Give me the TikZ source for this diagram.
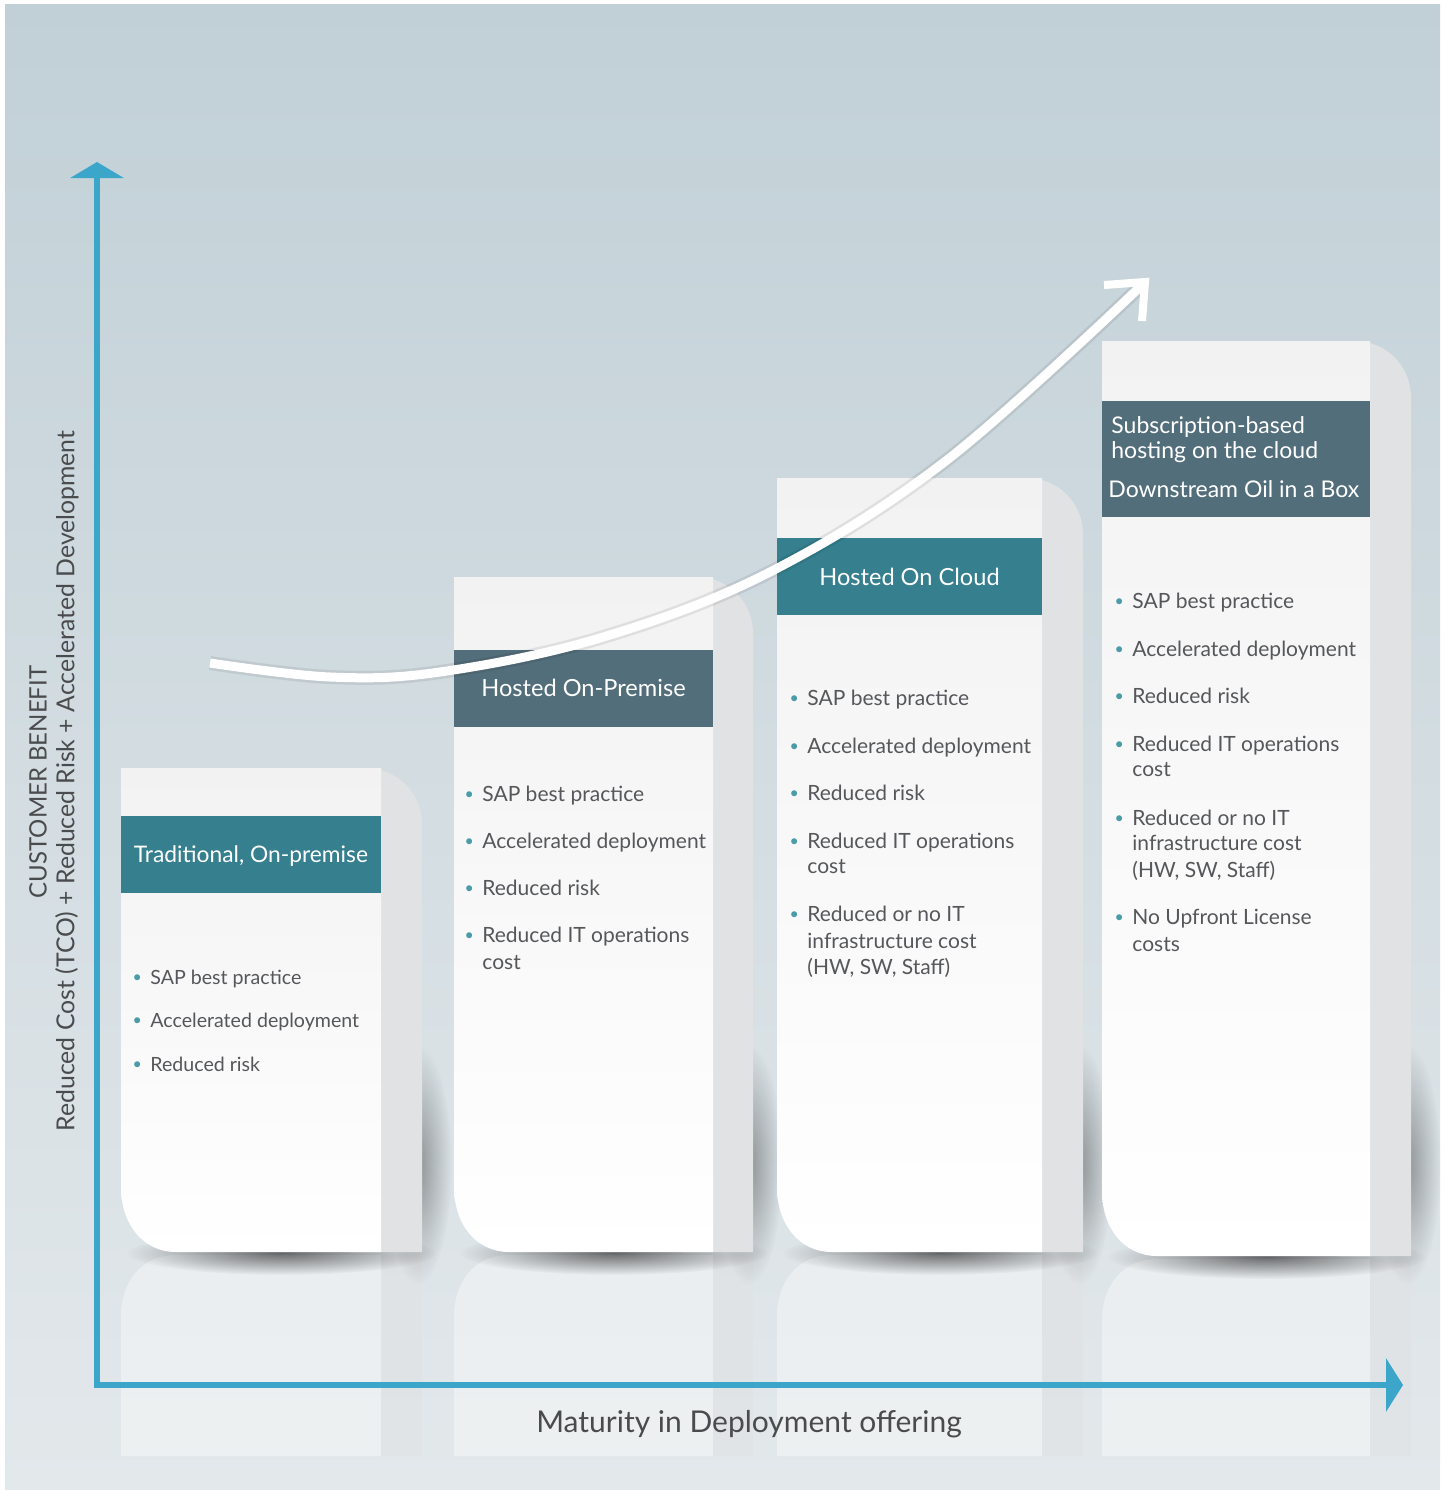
\documentclass[tikz,border=0pt]{standalone}
\usepackage{fontspec}
\setmainfont{Lato}
\usetikzlibrary{fadings,arrows.meta}
\definecolor{bgtop}{HTML}{C1D0D7}
\definecolor{bgbot}{HTML}{E3E8EB}
\definecolor{axisc}{HTML}{3BA5CA}
\definecolor{tealh}{HTML}{357F8E}
\definecolor{slateh}{HTML}{536E7B}
\definecolor{txt}{HTML}{55575A}
\definecolor{labc}{HTML}{4A4B4D}
\definecolor{bul}{HTML}{4A9CA8}
\definecolor{sidec}{HTML}{E0E2E4}
\definecolor{fronttop}{HTML}{F2F2F2}
\tikzfading[name=fuzzyell, inner color=transparent!0, outer color=transparent!100]
\newcommand{\bl}{\llap{\textcolor{bul}{\fontsize{8}{8}\selectfont\raisebox{0.6pt}{•}}\hspace{4.2pt}}}
\begin{document}
\begin{tikzpicture}[x=0.5pt,y=-0.5pt,
  band/.style={inner sep=0, minimum width=#1, anchor=north west},
  hdr/.style={text=white, font=\fontsize{11.8}{14}\selectfont, inner sep=0, anchor=base},
  hdrl/.style={text=white, font=\fontsize{11.5}{14}\selectfont, inner sep=0, anchor=base west},
  itemA/.style={text=txt, font=\fontsize{9.8}{12}\selectfont, inner sep=0, anchor=base west},
  item/.style={text=txt, font=\fontsize{10.5}{13}\selectfont, inner sep=0, anchor=base west},
  axlab/.style={text=labc, font=\fontsize{12}{14}\selectfont, inner sep=0},
  axisline/.style={axisc, line width=2.6pt, line join=miter},
  trend/.style={white, line width=4.5pt},
]
\useasboundingbox (0,0) rectangle (1448,1490);
\fill[white] (0,0) rectangle (1448,1490);
\shade[top color=bgtop, bottom color=bgbot] (5,4) rectangle (1440,1490);

% reflections
\foreach \xa/\xb/\xg/\yb in {121/381/422/1252, 454/713/753/1252, 777/1042/1083/1252, 1102/1370/1411/1256}{
  \fill[white, opacity=.38] (\xa,1456) -- (\xa,\yb+65) .. controls (\xa,\yb+28) and (\xa+22,\yb+3) .. (\xa+55,\yb+3) -- (\xb,\yb+3) -- (\xb,1456) -- cycle;
  \fill[sidec, opacity=.55] (\xb,\yb+3) rectangle (\xg,1456);
}

% boxes
\foreach \xa/\xb/\xg/\yt/\yb in {121/381/422/768/1252, 454/713/753/577/1252, 777/1042/1083/478/1252, 1102/1370/1411/341/1256}{
  % shadows
  \fill[black, opacity=.55, path fading=fuzzyell] ({(\xa+\xg)/2+10},\yb+1) ellipse [x radius={(\xg-\xa)/2+5}, y radius=22];
  \fill[black, opacity=.35, path fading=fuzzyell] (\xg-4,1165) ellipse [x radius=34, y radius=120];
  % side
  \fill[sidec] (\xb-30,\yt) -- (\xg-56,\yt) .. controls (\xg-25,\yt) and (\xg,\yt+25) .. (\xg,\yt+56) -- (\xg,\yb) -- (\xb-30,\yb) -- cycle;
  % front
  \shade[top color=fronttop, bottom color=white] (\xa,\yt) -- (\xb,\yt) -- (\xb,\yb) -- (\xa+55,\yb) .. controls (\xa+22,\yb) and (\xa,\yb-28) .. (\xa,\yb-65) -- cycle;
}

% header bands
\node[band=130pt, minimum height=38.5pt, fill=tealh] (band1) at (121,816) {};
\node[band=129.5pt, minimum height=38.5pt, fill=slateh] (band2) at (454,650) {};
\node[band=132.5pt, minimum height=38.5pt, fill=tealh] (band3) at (777,538) {};
\node[band=134pt, minimum height=58pt, fill=slateh] (band4) at (1102,401) {};

\node[hdr, font=\fontsize{11.4}{14}\selectfont] (h1) at (251,862) {Traditional, On-premise};
\node[hdr] (h2) at (583.5,696) {Hosted On-Premise};
\node[hdr] (h3) at (909.5,585) {Hosted On Cloud};
\node[hdrl] (h4a) at (1111,433) {Subscription-based};
\node[hdrl] (h4b) at (1111,458) {hosting on the cloud};
\node[hdrl] (h4c) at (1108,497) {Downstream Oil in a Box};

% box 1 items
\node[itemA] (i1a) at (150,984) {\bl SAP best practice};
\node[itemA] (i1b) at (150,1027) {\bl Accelerated deployment};
\node[itemA] (i1c) at (150,1071) {\bl Reduced risk};

% box 2 items
\node[item] (i2a) at (482,801) {\bl SAP best practice};
\node[item] (i2b) at (482,848) {\bl Accelerated deployment};
\node[item] (i2c) at (482,895) {\bl Reduced risk};
\node[item] (i2d) at (482,942) {\bl Reduced IT operations};
\node[item] (i2e) at (482,969) {cost};

% box 3 items
\node[item] (i3a) at (807,705) {\bl SAP best practice};
\node[item] (i3b) at (807,753) {\bl Accelerated deployment};
\node[item] (i3c) at (807,800) {\bl Reduced risk};
\node[item] (i3d) at (807,848) {\bl Reduced IT operations};
\node[item] (i3e) at (807,873) {cost};
\node[item] (i3f) at (807,921) {\bl Reduced or no IT};
\node[item] (i3g) at (807,948) {infrastructure cost};
\node[item] (i3h) at (807,974) {(HW, SW, Staff)};

% box 4 items
\node[item] (i4a) at (1132,608) {\bl SAP best practice};
\node[item] (i4b) at (1132,656) {\bl Accelerated deployment};
\node[item] (i4c) at (1132,703) {\bl Reduced risk};
\node[item] (i4d) at (1132,751) {\bl Reduced IT operations};
\node[item] (i4e) at (1132,776) {cost};
\node[item] (i4f) at (1132,825) {\bl Reduced or no IT};
\node[item] (i4g) at (1132,850) {infrastructure cost};
\node[item] (i4h) at (1132,877) {(HW, SW, Staff)};
\node[item] (i4i) at (1132,924) {\bl No Upfront License};
\node[item] (i4j) at (1132,951) {costs};

% axes
\coordinate (origin) at (97,1385);
\coordinate (ytip) at (97,162);
\coordinate (xtip) at (1403,1385);
\draw[axisline, {Triangle[width=26.5pt,length=8pt]}-{Triangle[width=26.5pt,length=8.5pt]}] (ytip) -- (origin) -- (xtip);

% axis labels
\node[axlab, rotate=90] (ylab1) at (38,782) {CUSTOMER BENEFIT};
\node[axlab, rotate=90, font=\fontsize{12.4}{14}\selectfont] (ylab2) at (67,781) {Reduced Cost (TCO) + Reduced Risk + Accelerated Development};
\node[axlab, anchor=base, font=\fontsize{15}{18}\selectfont] (xlab) at (749,1432) {Maturity in Deployment offering};

% trend arrow
\coordinate (c0) at (210,663);
\coordinate (c1) at (330,677);
\coordinate (c2) at (440,672);
\coordinate (c3) at (600,638);
\coordinate (c4) at (770,572);
\coordinate (c5) at (947,460);
\coordinate (c6) at (1141,286);
\coordinate (ca) at (1104,285);
\coordinate (ctip) at (1145,282);
\coordinate (cb) at (1142,321);
\begin{scope}[yshift=-2.5pt]
\draw[black, opacity=.08, line width=7pt] plot[smooth, tension=.6] coordinates {(c0) (c1) (c2) (c3) (c4) (c5) (c6)};
\end{scope}
\draw[trend] plot[smooth, tension=.6] coordinates {(c0) (c1) (c2) (c3) (c4) (c5) (c6)};
\draw[trend, line width=4pt, line join=miter] (ca) -- (ctip) -- (cb);
\end{tikzpicture}
\end{document}
